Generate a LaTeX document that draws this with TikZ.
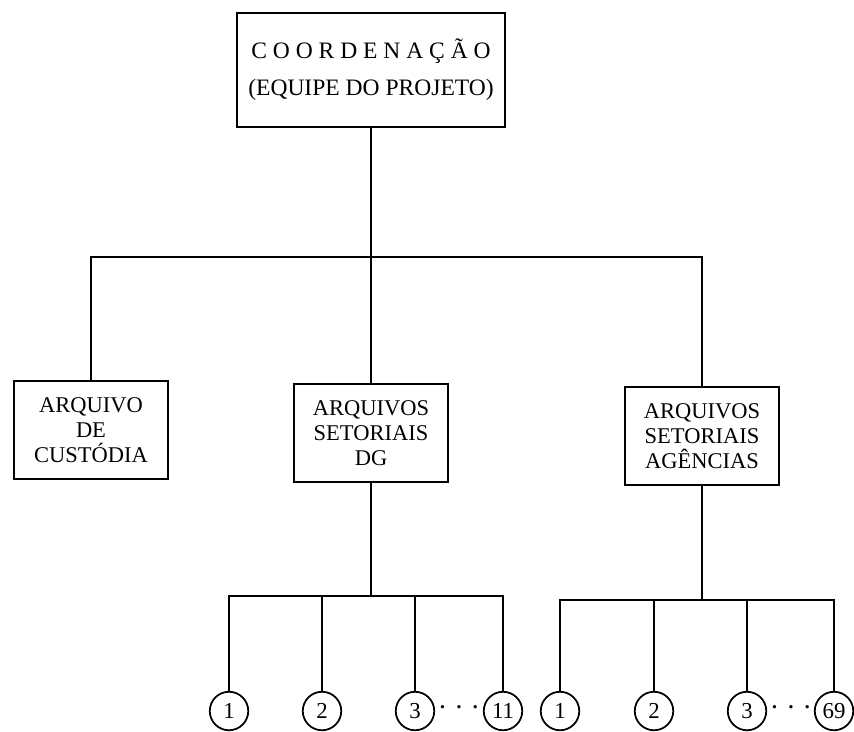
\documentclass[tikz,border=0pt]{standalone}
\usepackage{fontspec}
\setmainfont{Liberation Serif}
\begin{document}
\begin{tikzpicture}[x=0.02cm,y=-0.02cm,line width=1pt,
        chefe/.style = {draw,minimum width=5.36cm,minimum height=2.28cm,align=center,font=\fontsize{13.4}{21}\selectfont},
        setor/.style = {draw,minimum width=3.08cm,minimum height=1.96cm,inner sep=0pt,align=center,font=\fontsize{12.8}{14.2}\selectfont},
        unid/.style = {draw,circle,minimum size=0.77cm,inner sep=0pt,font=\fontsize{13}{14}\selectfont},
        pontos/.style = {inner sep=0pt,font=\fontsize{16}{16}\selectfont}]
    \useasboundingbox (0,0) rectangle (854,731);

    \node[chefe] (coord) at (371,70) {C O O R D E N A Ç Ã O\\(EQUIPE DO PROJETO)};

    \node[setor] (custodia) at (91,430) {ARQUIVO\\DE\\CUSTÓDIA};
    \node[setor] (dg) at (371,433) {ARQUIVOS\\SETORIAIS\\DG};
    \node[setor] (agencias) at (702,436) {ARQUIVOS\\SETORIAIS\\AGÊNCIAS};

    \coordinate (topbus) at (371,257);
    \draw (coord.south) -- (topbus);
    \draw (custodia.north) |- (topbus) -| (agencias.north);
    \draw (dg.north) -- (topbus);

    \node[unid] (dg1) at (229,711) {1};
    \node[unid] (dg2) at (322,711) {2};
    \node[unid] (dg3) at (415,711) {3};
    \node[unid] (dg11) at (503,711) {11};
    \node[pontos] (dgdots) at (459,711) {· · ·};

    \node[unid] (ag1) at (560,711) {1};
    \node[unid] (ag2) at (654,711) {2};
    \node[unid] (ag3) at (747,711) {3};
    \node[unid] (ag69) at (834,711) {69};
    \node[pontos] (agdots) at (791,711) {· · ·};

    \coordinate (dgbus) at (371,596);
    \draw (dg.south) -- (dgbus);
    \draw (dg1.north) |- (dgbus) -| (dg11.north);
    \draw (dg2.north) -- (dg2 |- dgbus);
    \draw (dg3.north) -- (dg3 |- dgbus);

    \coordinate (agbus) at (702,600);
    \draw (agencias.south) -- (agbus);
    \draw (ag1.north) |- (agbus) -| (ag69.north);
    \draw (ag2.north) -- (ag2 |- agbus);
    \draw (ag3.north) -- (ag3 |- agbus);
\end{tikzpicture}
\end{document}
